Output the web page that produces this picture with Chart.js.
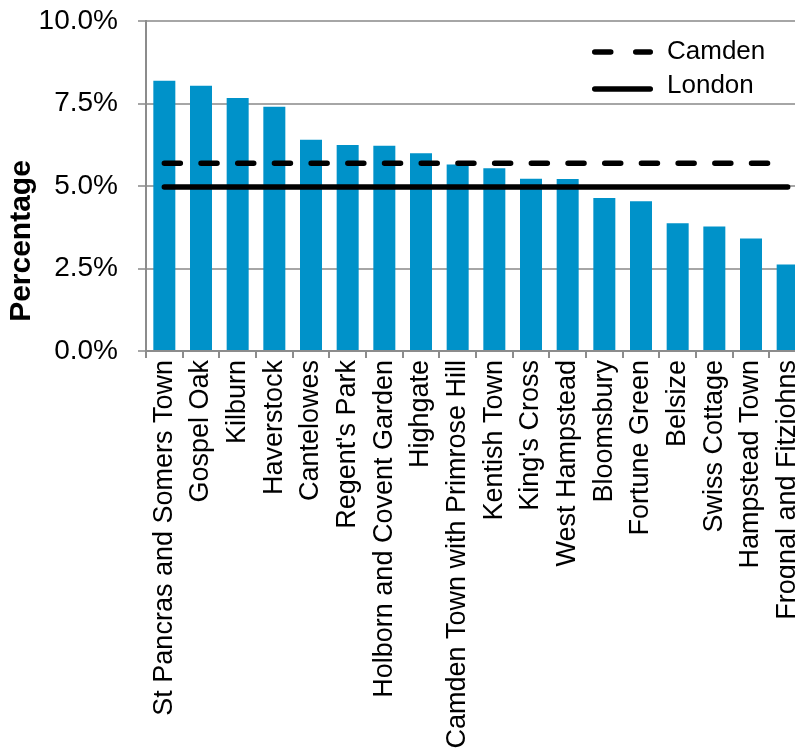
<!DOCTYPE html>
<html>
<head>
<meta charset="utf-8">
<script src="https://cdn.jsdelivr.net/npm/chart.js@4.4.1/dist/chart.umd.min.js"></script>
<style>
  html, body { margin: 0; padding: 0; background: #fff; overflow: hidden; }
  #wrap { width: 795px; height: 755px; overflow: hidden; }
  canvas { display: block; }
</style>
</head>
<body>
<div id="wrap"><canvas id="c" width="812" height="755"></canvas></div>
<script>
const wards = [
  "St Pancras and Somers Town", "Gospel Oak", "Kilburn", "Haverstock", "Cantelowes",
  "Regent's Park", "Holborn and Covent Garden", "Highgate", "Camden Town with Primrose Hill",
  "Kentish Town", "King's Cross", "West Hampstead", "Bloomsbury", "Fortune Green",
  "Belsize", "Swiss Cottage", "Hampstead Town", "Frognal and Fitzjohns"
];
const wardValues = [8.19, 8.04, 7.67, 7.40, 6.40, 6.24, 6.22, 5.99, 5.65,
                    5.54, 5.22, 5.21, 4.64, 4.54, 3.87, 3.77, 3.41, 2.62];
const camdenValues = [5.69, 5.69, 5.69, 5.69, 5.69, 5.69, 5.69, 5.69, 5.69,
                      5.69, 5.69, 5.69, 5.69, 5.69, 5.69, 5.69, 5.69, 5.69];
const londonValues = [4.97, 4.97, 4.97, 4.97, 4.97, 4.97, 4.97, 4.97, 4.97,
                      4.97, 4.97, 4.97, 4.97, 4.97, 4.97, 4.97, 4.97, 4.97];
const yTicks = [0, 2.5, 5, 7.5, 10];
const seriesNames = ["Camden", "London"];
const yTitle = "Percentage";

const FONT = "'Liberation Sans', Arial, sans-serif";

const legendPlugin = {
  id: 'customLegend',
  afterDraw(chart) {
    const ctx = chart.ctx;
    const area = chart.chartArea;
    const x0 = area.right - 214, x1 = area.right - 153;
    const items = [
      { label: seriesNames[0], dash: [16, 25], y: area.top + 31 },
      { label: seriesNames[1], dash: [], y: area.top + 68 }
    ];
    ctx.save();
    items.forEach(it => {
      ctx.beginPath();
      ctx.setLineDash(it.dash);
      ctx.lineWidth = 5.5;
      ctx.lineCap = 'round';
      ctx.strokeStyle = '#000';
      ctx.moveTo(x0 + 2.75, it.y);
      ctx.lineTo(x1 - 2.75, it.y);
      ctx.stroke();
      ctx.setLineDash([]);
      ctx.fillStyle = '#000';
      ctx.font = "26px " + FONT;
      ctx.textBaseline = 'middle';
      ctx.textAlign = 'left';
      ctx.fillText(it.label, x1 + 14, it.y - (it.dash.length ? 0 : 3));
    });
    // y-axis title
    ctx.translate(22, (area.top + area.bottom) / 2 + 55);
    ctx.rotate(-Math.PI / 2);
    ctx.font = "bold 30px " + FONT;
    ctx.textAlign = 'center';
    ctx.textBaseline = 'middle';
    ctx.fillText(yTitle, 0, 0);
    ctx.restore();
  }
};

new Chart(document.getElementById('c'), {
  data: {
    labels: wards,
    datasets: [
      {
        type: 'line', label: seriesNames[0], data: camdenValues,
        borderColor: '#000', borderWidth: 5.5, borderDash: [16, 20.7],
        borderCapStyle: 'round', pointRadius: 0, order: 1
      },
      {
        type: 'line', label: seriesNames[1], data: londonValues,
        borderColor: '#000', borderWidth: 5.5,
        borderCapStyle: 'round', pointRadius: 0, order: 1
      },
      {
        type: 'bar', label: 'Wards', data: wardValues,
        backgroundColor: '#0092C9', borderWidth: 0,
        barPercentage: 0.6, categoryPercentage: 1.0, order: 2
      }
    ]
  },
  options: {
    responsive: false,
    animation: false,
    layout: { padding: { top: 21, right: 6, left: 0, bottom: 0 } },
    plugins: { legend: { display: false }, tooltip: { enabled: false } },
    scales: {
      x: {
        offset: true,
        grid: { display: true, drawOnChartArea: false, offset: true, color: '#8c8c8c', lineWidth: 2, tickLength: 7 },
        border: { display: true, color: '#8c8c8c', width: 2 },
        ticks: {
          color: '#000', font: { family: FONT, size: 27 },
          minRotation: 90, maxRotation: 90, autoSkip: false, padding: 2
        },
        afterFit(scale) { scale.height = 404; scale.paddingLeft = 0; scale.paddingRight = 0; }
      },
      y: {
        min: 0, max: 10,
        afterBuildTicks(scale) { scale.ticks = yTicks.map(v => ({ value: v })); },
        grid: { color: '#a6a6a6', lineWidth: 2, tickLength: 8, drawTicks: true },
        border: { display: true, color: '#8c8c8c', width: 2 },
        ticks: {
          color: '#000', font: { family: FONT, size: 28 }, padding: 20,
          callback: v => v.toFixed(1) + '%'
        },
        title: { display: false },
        afterFit(scale) { scale.width = 146; scale.paddingTop = 0; scale.paddingBottom = 0; }
      }
    }
  },
  plugins: [legendPlugin]
});
</script>
</body>
</html>
